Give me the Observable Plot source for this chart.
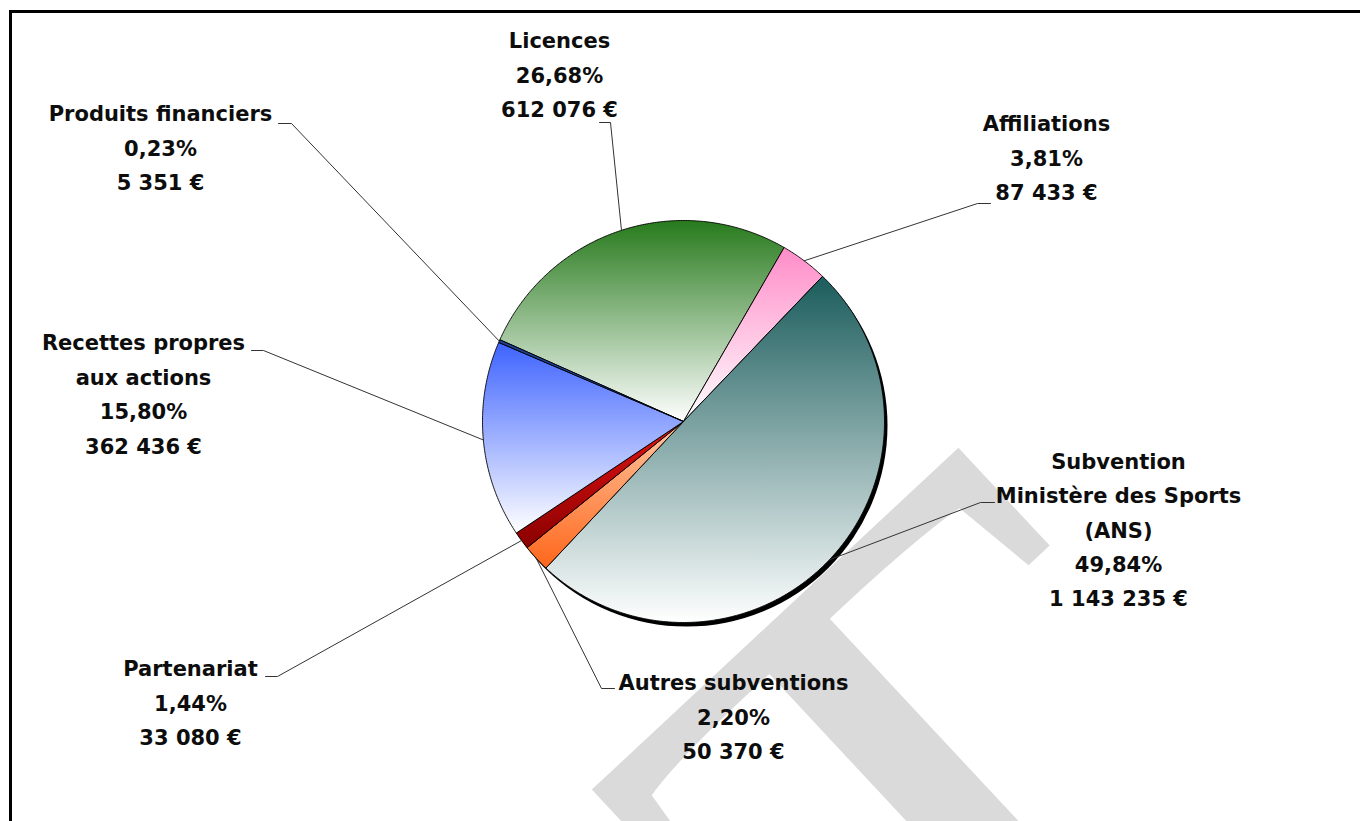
<!DOCTYPE html>
<html>
<head>
<meta charset="utf-8">
<script src="https://cdn.jsdelivr.net/npm/d3@7"></script>
<script src="https://cdn.jsdelivr.net/npm/@observablehq/plot@0.6"></script>
<style>
html, body { margin: 0; padding: 0; background: #fff; overflow: hidden; }
#wrap { position: relative; width: 1360px; height: 821px; overflow: hidden; }
#border { position: absolute; left: 9px; top: 10px; width: 1400px; height: 900px; border: 3px solid #000; box-sizing: border-box; pointer-events: none; }
</style>
</head>
<body>
<div id="wrap"><div id="chart"></div><div id="border"></div></div>
<script>
// ---- data ----
const categories = [
  "Licences",
  "Affiliations",
  "Subvention\nMinistère des Sports\n(ANS)",
  "Autres subventions",
  "Partenariat",
  "Recettes propres\naux actions",
  "Produits financiers"
];
const values = [612076, 87433, 1143235, 50370, 33080, 362436, 5351];
const watermark = "PROJET";

// ---- styles (gradient top -> bottom for each slice) ----
const topColors    = ["#277a1c", "#ff8cc8", "#1b5c5c", "#ffc6a2", "#e31313", "#3e63ff", "#1d3f8a"];
const bottomColors = ["#ffffff", "#ffffff", "#ffffff", "#ff661a", "#8a0000", "#ffffff", "#2a56b8"];

// ---- layout (pixel frame) ----
const W = 1360, H = 821;
const cx = 683, cy = 421, R = 201;
const firstSliceAngle = 294; // degrees, clockwise from 12 o'clock
// label block centre, leader elbow and leader end, as offsets from pie centre
const labelDX = [-124, 363, 435, 50, -493, -540, -523];
const labelDY = [-347, -264, 108, 295, 281, -27.5, -274];
const elbowDX = [-73, 294, 297, -82, -406, -420, -392];
const elbowDY = [-299, -218, 81, 267, 255, -71, -298];
const endDX   = [-84, 307, 311, -69, -418, -432, -405];
// watermark anchor (end of baseline) offset from pie centre, size, angle
const wmDX = 674, wmDY = 433, wmSize = 870, wmAngle = -43;

// ---- derived ----
const total = d3.sum(values);
const frLocale = d3.formatLocale({decimal: ",", thousands: "\u00a0", grouping: [3], currency: ["", "\u00a0€"]});
const fmtPct = v => frLocale.format(".2f")(v * 100) + "%";
const fmtEur = frLocale.format("$,.0f");

const rows = categories.map((name, i) => ({name, value: values[i], i}));
const a0 = firstSliceAngle * Math.PI / 180;
const arcs = d3.pie().sort(null).value(d => d.value).startAngle(a0).endAngle(a0 + 2 * Math.PI)(rows);

const px = a => cx + R * Math.sin(a);
const py = a => cy - R * Math.cos(a);

// slice polygons
const slicePts = [];
arcs.forEach(a => {
  const id = a.data.name;
  const fill = `url(#grad${a.data.i})`;
  slicePts.push({id, fill, x: cx, y: cy});
  const n = Math.max(2, Math.ceil((a.endAngle - a.startAngle) / (0.5 * Math.PI / 180)));
  for (let k = 0; k <= n; k++) {
    const t = a.startAngle + (a.endAngle - a.startAngle) * k / n;
    slicePts.push({id, fill, x: px(t), y: py(t)});
  }
  slicePts.push({id, fill, x: cx, y: cy});
});

// leader lines
const leaderPts = [];
arcs.forEach(a => {
  const i = a.data.i, m = (a.startAngle + a.endAngle) / 2;
  leaderPts.push({id: i, x: px(m), y: py(m)});
  leaderPts.push({id: i, x: cx + elbowDX[i], y: cy + elbowDY[i]});
  leaderPts.push({id: i, x: cx + endDX[i], y: cy + elbowDY[i]});
});

// labels
const labels = rows.map(d => ({
  x: cx + labelDX[d.i],
  y: cy + labelDY[d.i],
  text: `${d.name}\n${fmtPct(d.value / total)}\n${fmtEur(d.value)}`
}));

const fontSize = 21;
const svg = Plot.plot({
  width: W,
  height: H,
  margin: 0,
  x: {domain: [0, W], range: [0, W], axis: null},
  y: {domain: [0, H], range: [0, H], axis: null},
  color: {type: "identity"},
  style: {background: "transparent"},
  marks: [
    Plot.text([watermark], {x: () => cx + wmDX, y: () => cy + wmDY, text: d => d, rotate: wmAngle, fontSize: wmSize, fontFamily: "'Liberation Serif', 'DejaVu Serif', serif", textAnchor: "end", lineAnchor: "bottom", fill: "#dadada"}),
    Plot.dot([{x: cx, y: cy}], {x: "x", y: "y", r: R, fill: "#000", stroke: "none", dx: 3, dy: 4}),
    Plot.line(slicePts, {x: "x", y: "y", z: "id", fill: "fill", stroke: "#000", strokeWidth: 0.9, curve: "linear-closed"}),
    Plot.line(leaderPts, {x: "x", y: "y", z: "id", stroke: "#333", strokeWidth: 1}),
    Plot.text(labels, {x: "x", y: "y", text: "text", fontSize, fontWeight: "bold", fontFamily: "DejaVu Sans", lineHeight: 34.4 / fontSize, fill: "#0d0d0d", dy: -3})
  ]
});

const defs = d3.select(svg).insert("defs", ":first-child");
rows.forEach(d => {
  const g = defs.append("linearGradient").attr("id", `grad${d.i}`).attr("x1", 0).attr("y1", 0).attr("x2", 0).attr("y2", 1);
  g.append("stop").attr("offset", "0%").attr("stop-color", topColors[d.i]);
  g.append("stop").attr("offset", "100%").attr("stop-color", bottomColors[d.i]);
});

document.getElementById("chart").appendChild(svg);
</script>
</body>
</html>
